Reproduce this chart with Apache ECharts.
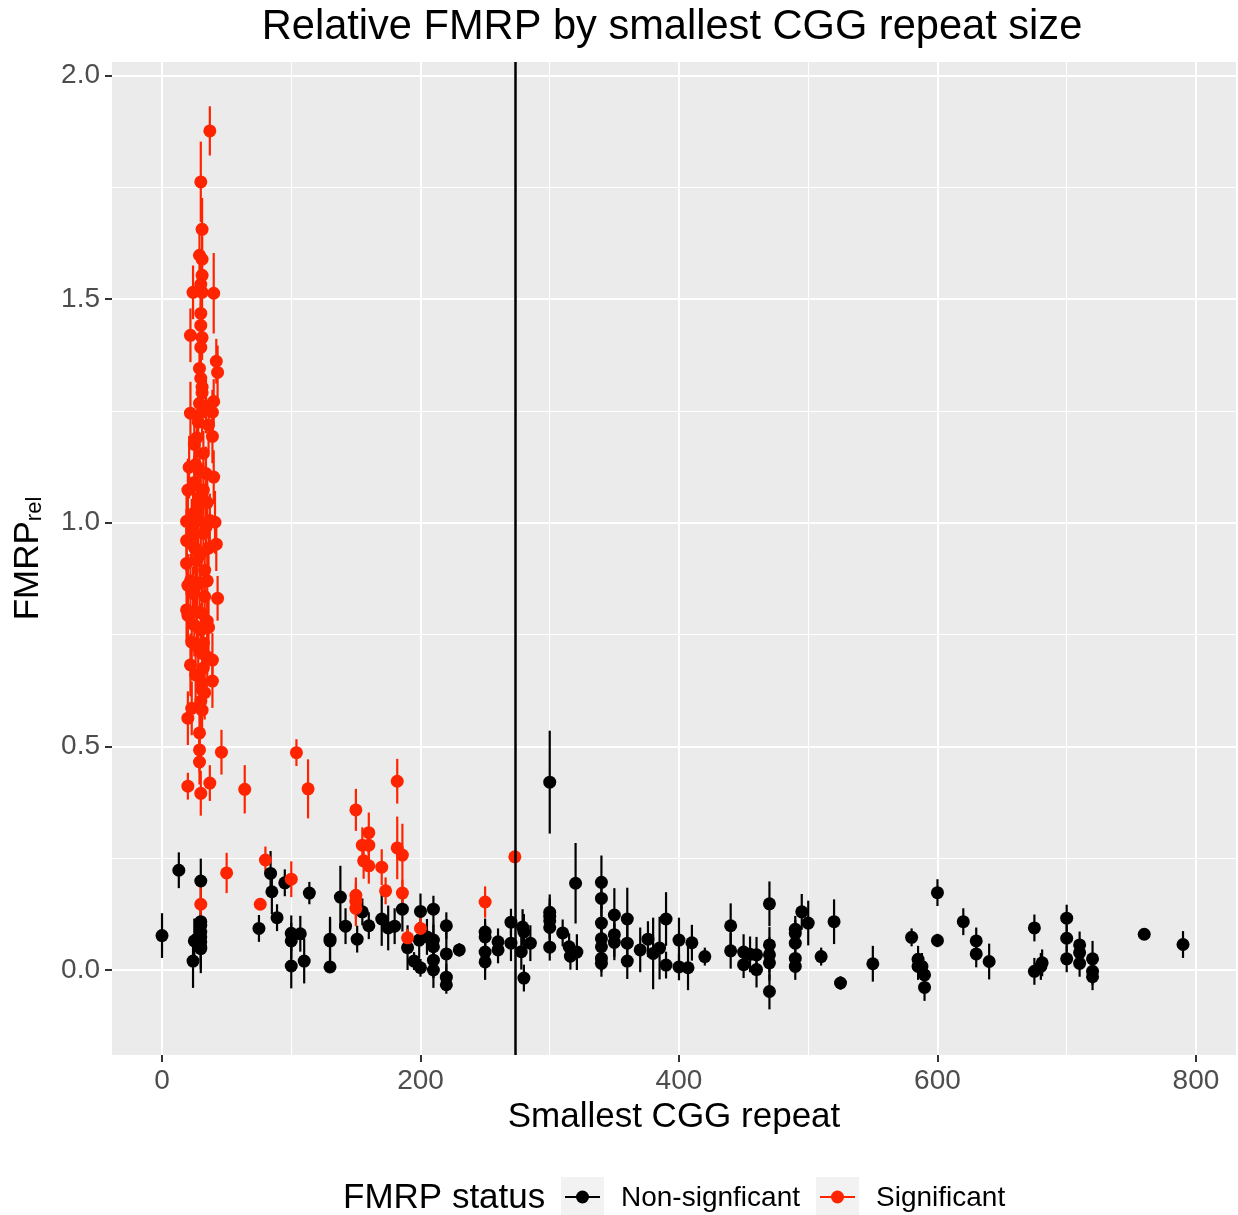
<!DOCTYPE html>
<html>
<head>
<meta charset="utf-8">
<script src="https://cdn.jsdelivr.net/npm/echarts@6/dist/echarts.min.js"></script>
<style>
html,body{margin:0;padding:0;background:#fff;}
#chart{width:1238px;height:1215px;}
</style>
</head>
<body>
<div id="chart"></div>
<script>
// ---- data ----
const titleText = 'Relative FMRP by smallest CGG repeat size';
const xTicks = [0, 200, 400, 600, 800];
const yTicks = [0, 0.5, 1, 1.5, 2];
const xMinor = [100, 300, 500, 700];
const yMinor = [0.25, 0.75, 1.25, 1.75];
const cutoff = 273;

// Significant (red)
const sigX = [37,30,31,29,31,31,30,24,31,40,30,30,22,31,30,42,43,29,30,31,31,40,29,22,31,39,28,36,39,25,32,21,29,40,20,25,32,28,35,27,19,28,41,37,23,32,42,19,25,36,19,27,33,20,29,24,43,33,19,27,20,31,25,36,23,32,31,22,39,32,39,31,31,30,23,31,20,29,29,29,20,30,37,
  26,34,30,24,34,30,22,35,26,30,28,35,26,33,27,34,26,35,
  46,50,64,76,80,100,104,113,150,160,155,160,156,160,170,173,182,182,186,186,150,150,150,190,200,250,273,30];
const sigY = [1.876,1.762,1.656,1.598,1.589,1.553,1.533,1.515,1.515,1.513,1.468,1.441,1.419,1.414,1.392,1.361,1.336,1.345,1.323,1.303,1.29,1.271,1.267,1.245,1.247,1.247,1.225,1.218,1.193,1.175,1.155,1.124,1.117,1.102,1.073,1.09,1.073,1.05,1.045,1.028,1.003,1.005,1.001,1.005,0.983,0.976,0.952,0.96,0.945,0.943,0.909,0.915,0.894,0.86,0.865,0.842,0.831,0.835,0.805,0.8,0.793,0.797,0.771,0.766,0.733,0.731,0.708,0.682,0.693,0.675,0.646,0.641,0.626,0.601,0.585,0.581,0.563,0.53,0.492,0.465,0.411,0.395,0.418,
  1.13,1.11,1.06,1.02,0.99,0.93,0.87,0.87,0.86,0.76,0.72,0.70,0.66,0.62,1.19,1.26,0.94,0.78,
  0.487,0.217,0.404,0.147,0.246,0.203,0.486,0.405,0.358,0.307,0.279,0.279,0.244,0.233,0.23,0.177,0.422,0.273,0.257,0.172,0.167,0.154,0.138,0.072,0.093,0.152,0.253,0.147];
const sigErr = [0.055,0.09,0.07,0.05,0.05,0.05,0.05,0.06,0.05,0.09,0.05,0.05,0.06,0.05,0.05,0.05,0.06,0.05,0.05,0.05,0.05,0.05,0.05,0.07,0.05,0.05,0.05,0.06,0.06,0.07,0.05,0.07,0.06,0.06,0.07,0.06,0.06,0.06,0.06,0.06,0.06,0.06,0.07,0.06,0.07,0.06,0.06,0.07,0.06,0.06,0.07,0.06,0.06,0.07,0.06,0.06,0.05,0.06,0.07,0.07,0.06,0.06,0.07,0.07,0.07,0.06,0.07,0.07,0.06,0.06,0.06,0.06,0.06,0.07,0.06,0.06,0.06,0.06,0.05,0.05,0.03,0.05,0.04,
  0.06,0.06,0.06,0.06,0.06,0.06,0.06,0.06,0.06,0.06,0.06,0.06,0.06,0.06,0.06,0.06,0.06,0.06,
  0.05,0.045,0.054,0.0,0.03,0.04,0.03,0.066,0.047,0.045,0.04,0.04,0.04,0.04,0.04,0.03,0.05,0.07,0.07,0.03,0.04,0.04,0.04,0.02,0.04,0.035,0.0,0.045];

// Non-significant (black)
const nsX = [0,13,24,25,30,30,30,30,30,30,30,30,75,84,85,89,95,100,100,100,107,110,114,130,130,130,138,142,151,155,160,170,175,180,186,190,195,200,199,200,205,210,210,210,210,210,220,220,220,220,230,250,250,250,250,260,260,270,270,278,279,280,280,285,
  300,300,300,300,300,300,310,315,316,320,321,340,340,340,340,340,340,340,350,350,350,360,360,360,370,376,380,385,390,390,400,400,407,410,420,440,440,450,450,455,460,460,470,470,470,470,470,490,490,490,490,490,495,500,510,520,525,550,
  580,585,585,588,590,590,600,600,620,630,630,640,675,675,680,681,700,700,700,710,710,710,720,720,720,760,790];
const nsY = [0.077,0.223,0.02,0.065,0.199,0.108,0.1,0.085,0.074,0.063,0.052,0.048,0.093,0.216,0.175,0.117,0.195,0.082,0.065,0.009,0.081,0.02,0.172,0.069,0.065,0.007,0.163,0.098,0.069,0.13,0.099,0.114,0.094,0.098,0.136,0.05,0.02,0.131,0.067,0.005,0.074,0.136,0.067,0.052,0.022,0.0,0.099,0.036,-0.016,-0.033,0.045,0.085,0.074,0.04,0.018,0.063,0.045,0.107,0.06,0.041,0.096,0.085,-0.018,0.06,
  0.42,0.129,0.12,0.11,0.095,0.051,0.083,0.052,0.031,0.194,0.04,0.196,0.16,0.105,0.07,0.052,0.026,0.015,0.123,0.079,0.062,0.114,0.06,0.02,0.045,0.069,0.037,0.049,0.114,0.011,0.067,0.007,0.005,0.061,0.03,0.099,0.043,0.04,0.012,0.035,0.034,0.001,0.148,0.056,0.034,0.016,-0.048,0.091,0.082,0.06,0.026,0.008,0.13,0.105,0.03,0.108,-0.029,0.014,
  0.073,0.024,0.008,0.008,-0.011,-0.039,0.173,0.066,0.108,0.065,0.036,0.019,0.094,-0.003,0.008,0.016,0.116,0.071,0.025,0.056,0.039,0.015,0.025,-0.003,-0.015,0.08,0.057];
const nsErr = [0.05,0.04,0.06,0.05,0.05,0.04,0.04,0.04,0.04,0.04,0.05,0.055,0.03,0.05,0.05,0.03,0.03,0.04,0.04,0.05,0.04,0.05,0.025,0.05,0.05,0.01,0.07,0.04,0.03,0.03,0.03,0.06,0.05,0.04,0.05,0.05,0.02,0.04,0.04,0.02,0.04,0.03,0.04,0.05,0.04,0.04,0.03,0.05,0.03,0.02,0.015,0.03,0.03,0.04,0.04,0.03,0.03,0.03,0.04,0.04,0.04,0.04,0.03,0.04,
  0.115,0.04,0.04,0.04,0.04,0.03,0.03,0.03,0.03,0.09,0.04,0.06,0.04,0.04,0.04,0.04,0.03,0.03,0.06,0.05,0.04,0.07,0.04,0.04,0.05,0.04,0.08,0.07,0.06,0.03,0.05,0.03,0.05,0.04,0.02,0.05,0.04,0.04,0.03,0.04,0.04,0.04,0.05,0.04,0.04,0.04,0.04,0.03,0.03,0.04,0.03,0.03,0.04,0.05,0.02,0.05,0.015,0.04,
  0.02,0.03,0.03,0.03,0.03,0.03,0.03,0.015,0.03,0.03,0.03,0.04,0.03,0.03,0.03,0.03,0.03,0.03,0.03,0.03,0.03,0.03,0.04,0.03,0.03,0.01,0.03];

// ---- build ----
const RED = '#ff2400';
const FONT = '"Liberation Sans", Arial, Helvetica, sans-serif';
const sigData = sigX.map((x, i) => [x, sigY[i], sigErr[i]]);
const nsData = nsX.map((x, i) => [x, nsY[i], nsErr[i]]);

function errRender(color) {
  return function (params, api) {
    const x = api.value(0), y = api.value(1), e = api.value(2);
    if (!e) return null;
    const p1 = api.coord([x, y - e]);
    const p2 = api.coord([x, y + e]);
    return {
      type: 'line',
      shape: { x1: p1[0], y1: p1[1], x2: p2[0], y2: p2[1] },
      style: { stroke: color, lineWidth: 2.2 }
    };
  };
}

const chart = echarts.init(document.getElementById('chart'), null, { renderer: 'canvas' });
const option = {
  backgroundColor: '#ffffff',
  animation: false,
  textStyle: { fontFamily: FONT },
  title: {
    text: titleText,
    left: 667, textAlign: 'center', top: 2,
    textStyle: { fontFamily: FONT, fontSize: 41.6, fontWeight: 'normal', color: '#000' }
  },
  grid: { left: 112, right: 2, top: 62, bottom: 160, show: true, backgroundColor: '#ebebeb', borderWidth: 0 },
  xAxis: {
    type: 'value', min: -38.7, max: 831, splitNumber: 4,
    name: 'Smallest CGG repeat', nameLocation: 'middle', nameGap: 39,
    nameTextStyle: { fontFamily: FONT, fontSize: 35, color: '#000' },
    axisLine: { show: false, onZero: false },
    axisTick: { show: true, length: 7, customValues: xTicks, lineStyle: { color: '#333', width: 2 } },
    axisLabel: { customValues: xTicks, margin: 12, fontSize: 28, color: '#4d4d4d', fontFamily: FONT },
    splitLine: { show: true, lineStyle: { color: '#ffffff', width: 2 } }
  },
  yAxis: {
    type: 'value', min: -0.19, max: 2.03, splitNumber: 4,
    name: 'FMRP{sub|rel}', nameLocation: 'middle', nameGap: 66, nameRotate: 90,
    nameTextStyle: { fontFamily: FONT, fontSize: 35, color: '#000',
      rich: { sub: { fontFamily: FONT, fontSize: 22, color: '#000', verticalAlign: 'bottom', padding: [14, 0, 0, 0] } } },
    axisLine: { show: false, onZero: false },
    axisTick: { show: true, length: 7, customValues: yTicks, lineStyle: { color: '#333', width: 2 } },
    axisLabel: { customValues: yTicks, margin: 12, fontSize: 28, color: '#4d4d4d', fontFamily: FONT,
      formatter: v => v.toFixed(1) },
    splitLine: { show: true, lineStyle: { color: '#ffffff', width: 2 } }
  },
  series: [
    {
      type: 'line', data: [], z: 1, silent: true,
      markLine: {
        z: 1,
        symbol: 'none', silent: true, animation: false,
        label: { show: false },
        lineStyle: { color: '#ffffff', width: 1, type: 'solid' },
        emphasis: { disabled: true },
        data: xMinor.map(v => ({ xAxis: v })).concat(yMinor.map(v => ({ yAxis: v })))
      }
    },
    { type: 'custom', name: 'nsErr', data: nsData, renderItem: errRender('#000000'), encode: { x: 0, y: 1 }, z: 2, clip: true },
    { type: 'custom', name: 'sigErr', data: sigData, renderItem: errRender(RED), encode: { x: 0, y: 1 }, z: 2, clip: true },
    { type: 'scatter', name: 'Non-signficant', data: nsData, symbolSize: 13, itemStyle: { color: '#000000', opacity: 1 }, z: 3 },
    { type: 'scatter', name: 'Significant', data: sigData, symbolSize: 13, itemStyle: { color: RED, opacity: 1 }, z: 4 },
    {
      type: 'line', data: [], z: 6, silent: true,
      markLine: {
        z: 6,
        symbol: 'none', silent: true, animation: false,
        label: { show: false },
        lineStyle: { color: '#000000', width: 2.5, type: 'solid' },
        emphasis: { disabled: true },
        data: [{ xAxis: cutoff }]
      }
    }
  ],
  graphic: [
    { type: 'text', left: 343, top: 1181, style: { text: 'FMRP status', fontFamily: FONT, fontSize: 35, fill: '#000' } },
    { type: 'rect', left: 561, top: 1177, shape: { width: 43, height: 42 }, style: { fill: '#f2f2f2' } },
    { type: 'line', shape: { x1: 565, y1: 1197, x2: 600, y2: 1197 }, style: { stroke: '#000', lineWidth: 2 } },
    { type: 'circle', shape: { cx: 582.5, cy: 1197, r: 6.5 }, style: { fill: '#000' } },
    { type: 'text', left: 621, top: 1184, style: { text: 'Non-signficant', fontFamily: FONT, fontSize: 28, fill: '#000' } },
    { type: 'rect', left: 816, top: 1177, shape: { width: 43, height: 42 }, style: { fill: '#f2f2f2' } },
    { type: 'line', shape: { x1: 820, y1: 1197, x2: 855, y2: 1197 }, style: { stroke: RED, lineWidth: 2 } },
    { type: 'circle', shape: { cx: 837.5, cy: 1197, r: 6.5 }, style: { fill: RED } },
    { type: 'text', left: 876, top: 1184, style: { text: 'Significant', fontFamily: FONT, fontSize: 28, fill: '#000' } }
  ]
};
chart.setOption(option);
</script>
</body>
</html>
